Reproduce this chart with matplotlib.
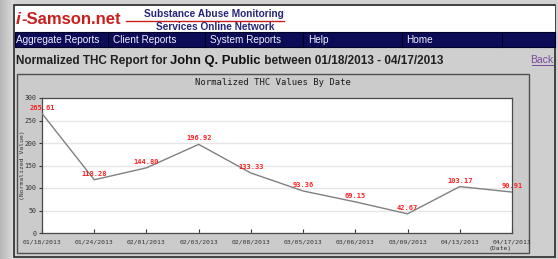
import matplotlib
matplotlib.use("Agg")
import matplotlib.pyplot as plt
import numpy as np
from matplotlib.patches import Rectangle

# ---- data ----
dates = ["01/18/2013", "01/24/2013", "02/01/2013", "02/03/2013", "02/08/2013",
         "03/05/2013", "03/06/2013", "03/09/2013", "04/13/2013", "04/17/2013"]
values = [265.61, 118.28, 144.80, 196.92, 133.33, 93.36, 69.15, 42.67, 103.17, 90.91]
y_ticks = [0, 50, 100, 150, 200, 250, 300]
nav_items = ["Aggregate Reports", "Client Reports", "System Reports", "Help", "Home"]
chart_title = "Normalized THC Values By Date"
y_label = "(Normalized Value)"
x_label = "(Date)"

W, H = 558, 259
fig = plt.figure(figsize=(W / 100, H / 100), dpi=100)
fig.patch.set_facecolor("#d2d2d2")

bg = fig.add_axes([0, 0, 1, 1])
bg.set_xlim(0, W)
bg.set_ylim(H, 0)
bg.axis("off")

# left outer gradient
grad = np.linspace(0.72, 0.86, 50).reshape(1, -1)
bg.imshow(np.repeat(grad, 2, axis=0), cmap="gray", vmin=0, vmax=1,
          extent=(0, 14, H, 0), aspect="auto", zorder=0)

# page frame
bg.add_patch(Rectangle((14, 5), 541, 252, facecolor="#cfcfcf", edgecolor="#2a2a2a", lw=1.2, zorder=1))
# white header
bg.add_patch(Rectangle((14.5, 5.5), 540, 27, facecolor="white", edgecolor="none", zorder=2))
# nav bar
bg.add_patch(Rectangle((14.5, 32), 540, 15, facecolor="#0c0b57", edgecolor="#000022", lw=0.8, zorder=2))
nav_x = [16, 113, 210, 308, 406]
for x in [108, 205, 303, 402, 502]:
    bg.plot([x, x], [32.5, 46.5], color="#000018", lw=0.8, zorder=3)
for x, t in zip(nav_x, nav_items):
    bg.text(x, 40, t, color="#f0f0ff", fontsize=7.2, family="Liberation Sans",
            va="center", ha="left", zorder=4)

# logo
bg.text(16, 19.5, "i", color="#c8201e", fontsize=12.5, family="Liberation Sans",
        fontweight="bold", fontstyle="italic", va="center", ha="left", zorder=4)
bg.text(21, 19.5, "-Samson.net", color="#c8201e", fontsize=12.0, family="Liberation Sans",
        fontweight="bold", va="center", ha="left", zorder=4)
bg.plot([126, 284], [20.5, 20.5], color="#c8201e", lw=1.0, zorder=4)
bg.text(214, 14, "Substance Abuse Monitoring", color="#26267a", fontsize=7.3,
        family="Liberation Sans", fontweight="bold", va="center", ha="center", zorder=4)
bg.text(215, 27, "Services Online Network", color="#26267a", fontsize=7.3,
        family="Liberation Sans", fontweight="bold", va="center", ha="center", zorder=4)

# report title
fig.canvas.draw()
r = fig.canvas.get_renderer()
ty = H - 61
t1 = bg.text(16 * 1.0, ty, "Normalized THC Report for ", color="#202020", fontsize=8.5,
             family="Liberation Sans", fontweight="bold", va="center", ha="left",
             transform=None, zorder=4)
bb = t1.get_window_extent(r)
t2 = bg.text(bb.x1, ty, "John Q. Public", color="#101010", fontsize=9.4,
             family="Liberation Sans", fontweight="bold", va="center", ha="left",
             transform=None, zorder=4)
bb2 = t2.get_window_extent(r)
t3 = bg.text(bb2.x1, ty, " between 01/18/2013 - 04/17/2013", color="#202020",
             fontsize=8.5, family="Liberation Sans", fontweight="bold",
             va="center", ha="left", transform=None, zorder=4)
bg.text(553, 60, "Back", color="#7a4aa0", fontsize=7.5, family="Liberation Sans",
        va="center", ha="right", zorder=4)
bg.plot([532, 553], [64.5, 64.5], color="#7a4aa0", lw=0.7, zorder=4)

# chart panel
bg.add_patch(Rectangle((16.5, 74), 512.5, 178.5, facecolor="#cbcbcb", edgecolor="#505050", lw=1.0, zorder=2))
bg.text(273, 82.5, chart_title, color="#1a1a1a", fontsize=6.4, family="DejaVu Sans Mono",
        va="center", ha="center", zorder=4)
bg.text(23, 165, y_label, color="#333333", fontsize=4.6, family="DejaVu Sans Mono",
        rotation=90, va="center", ha="center", zorder=4)
bg.text(500, 248.5, x_label, color="#333333", fontsize=4.6, family="DejaVu Sans Mono",
        va="center", ha="center", zorder=4)

# plot area
L, R, T, B = 42, 512, 98, 233
ax = fig.add_axes([L / W, (H - B) / H, (R - L) / W, (B - T) / H])
ax.set_facecolor("white")
xs = np.arange(len(dates))
ax.plot(xs, values, color="#808080", lw=1.0, zorder=3)
ax.set_xlim(0, len(dates) - 1)
ax.set_ylim(0, 300)
ax.set_yticks(y_ticks)
ax.set_xticks(xs)
ax.set_xticklabels(dates)
ax.grid(axis="y", color="#e6e6e6", lw=1.0)
ax.set_axisbelow(True)
for s in ax.spines.values():
    s.set_color("#4a4a4a")
    s.set_linewidth(0.9)
ax.tick_params(axis="x", direction="in", length=3, pad=5, labelsize=4.6, colors="#333333")
ax.tick_params(axis="y", direction="out", length=2.5, pad=1.5, labelsize=4.8, colors="#333333")
for lab in ax.get_xticklabels() + ax.get_yticklabels():
    lab.set_family("DejaVu Sans Mono")
for x, v in zip(xs, values):
    ax.annotate(f"{v:.2f}", (x, v), xytext=(0, 4.3), textcoords="offset points",
                ha="center", va="center", color="#ff2020", fontsize=5.0,
                family="DejaVu Sans Mono", fontweight="bold", annotation_clip=False,
                zorder=5)

fig.savefig("out.png", dpi=100, facecolor=fig.get_facecolor())
